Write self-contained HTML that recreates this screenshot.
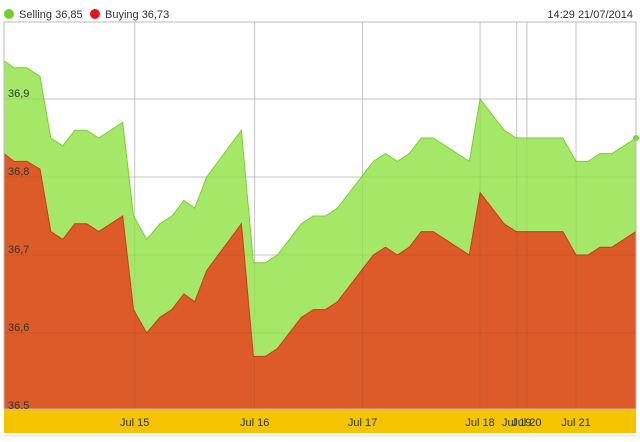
<!DOCTYPE html>
<html><head><meta charset="utf-8"><style>
body{margin:0;background:#fff;font-family:"Liberation Sans",sans-serif}
svg text{font-family:"Liberation Sans",sans-serif}
</style></head><body>
<svg id="c" width="640" height="437" viewBox="0 0 640 437">
<rect x="0" y="0" width="640" height="437" fill="#fff"/>
<g>
<circle cx="9" cy="14" r="5" fill="#6fd12a"/>
<text x="19" y="18" font-size="11" fill="#333">Selling 36,85</text>
<circle cx="95" cy="14" r="5" fill="#e8141a"/>
<text x="105" y="18" font-size="11" fill="#333">Buying 36,73</text>
</g>
<text x="633" y="18" font-size="11" fill="#333" text-anchor="end">14:29 21/07/2014</text>
<g id="plot"></g>
</svg>
<script>
const times=[0,0.83,1.9,3,3.9,4.9,5.9,6.9,7.9,9.9,10.8,11.9,13,14,15,15.9,16.9,19.8,20.8,21.8,22.8,23.8,24.8,25.8,26.8,27.8,28.8,29.8,30.8,31.8,32.8,33.8,34.8,35.8,36.8,38.8,39.7,41.7,42.7,46.6,47.7,48.7,49.7,50.7,52.7];
const selling=[36.949,36.94,36.94,36.929,36.85,36.84,36.86,36.86,36.85,36.87,36.75,36.72,36.74,36.75,36.77,36.76,36.80,36.86,36.69,36.69,36.70,36.72,36.74,36.75,36.75,36.76,36.78,36.80,36.82,36.83,36.82,36.83,36.85,36.85,36.84,36.82,36.90,36.86,36.85,36.85,36.82,36.82,36.83,36.83,36.85];
const buying=[36.83,36.82,36.82,36.81,36.73,36.72,36.74,36.74,36.73,36.75,36.63,36.60,36.62,36.63,36.65,36.64,36.68,36.74,36.57,36.57,36.58,36.60,36.62,36.63,36.63,36.64,36.66,36.68,36.70,36.71,36.70,36.71,36.73,36.73,36.72,36.70,36.78,36.74,36.73,36.73,36.70,36.70,36.71,36.71,36.73];
const xTickVals=[10.9,20.9,29.9,39.7,42.75,43.6,47.7];
const xTickLabels=["Jul 15","Jul 16","Jul 17","Jul 18","Jul 19","Jul 20","Jul 21"];
const yTickVals=[36.5,36.6,36.7,36.8,36.9];
const yTickLabels=["36,5","36,6","36,7","36,8","36,9"];

const L=4,R=636,T=22,B=409;
const X=t=>L+(t-0)/(52.7-0)*(R-L);
const Y=v=>99+(36.9-v)*780;
const NS='http://www.w3.org/2000/svg';
const g=document.getElementById('plot');
function mk(tag,attrs){const e=document.createElementNS(NS,tag);for(const k in attrs)e.setAttribute(k,attrs[k]);g.appendChild(e);return e;}

yTickVals.forEach((v,i)=>{
  const l=mk('line',{x1:L,x2:R,y1:Y(v),y2:Y(v),stroke:'#d0d0d0','stroke-width':1});
  
  
});
xTickVals.forEach((t,i)=>{
  const l=mk('line',{x1:X(t),x2:X(t),y1:T,y2:B,stroke:'#d0d0d0','stroke-width':1});
  
  
});
function area(vals,fill,stroke,name){
  let d='M'+X(times[0])+','+B;
  vals.forEach((v,i)=>{d+=' L'+X(times[i]).toFixed(1)+','+Y(v).toFixed(1);});
  d+=' L'+X(times[times.length-1])+','+B+' Z';
  const p=mk('path',{d:d,fill:fill});
  
  
  let d2='';
  vals.forEach((v,i)=>{d2+=(i?' L':'M')+X(times[i]).toFixed(1)+','+Y(v).toFixed(1);});
  const ln=mk('path',{d:d2,fill:'none',stroke:stroke,'stroke-width':1});
  
  
}
area(selling,'#a5e868','#80cc33','selling');
area(buying,'#dc5b29','#cc3a1a','buying');
xTickVals.forEach(t=>{
  const l=mk('line',{x1:X(t),x2:X(t),y1:T,y2:B,stroke:'#000','stroke-opacity':0.06});
  
  
});
yTickVals.forEach(v=>{
  const l=mk('line',{x1:L,x2:R,y1:Y(v),y2:Y(v),stroke:'#000','stroke-opacity':0.06});
  
  
});
const lastT=times[times.length-1];
const dot=mk('circle',{cx:X(lastT),cy:Y(selling[selling.length-1]),r:3,fill:'#6fd12a'});


const fr=mk('rect',{x:L,y:T,width:R-L,height:B-T,fill:'none',stroke:'#bbb'});


yTickVals.forEach((v,i)=>{
  const tx=mk('text',{x:8,y:Y(v)-2,'font-size':11,fill:'#333'});
  tx.textContent=yTickLabels[i];
  
  
});
const band=mk('rect',{x:L,y:B,width:R-L,height:24,fill:'#f5c400'});


xTickVals.forEach((t,i)=>{
  const tx=mk('text',{x:X(t),y:B+17,'font-size':11,fill:'#333','text-anchor':'middle'});
  tx.textContent=xTickLabels[i];
  
  
});
const bl=mk('rect',{x:L,y:B+25,width:R-L,height:3,fill:'#eee'});


</script>
</body></html>
